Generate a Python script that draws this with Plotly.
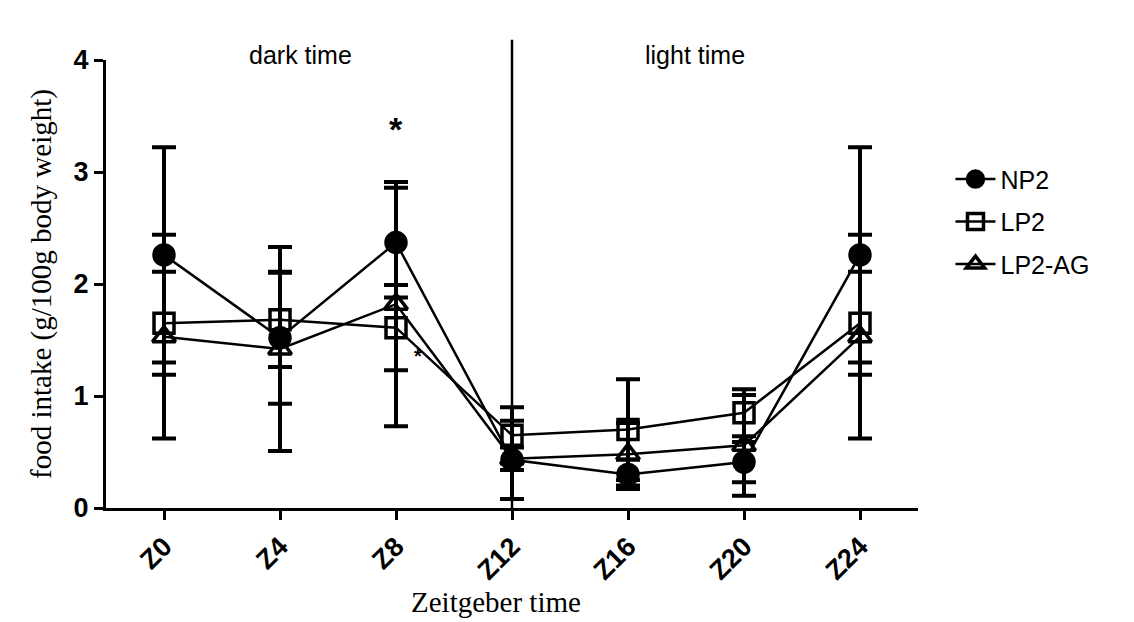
import plotly.graph_objects as go

# Zeitgeber hours and their tick labels
hours = [0, 4, 8, 12, 16, 20, 24]
tick_labels = ["Z0", "Z4", "Z8", "Z12", "Z16", "Z20", "Z24"]

# Food intake (g/100g body weight), mean and error per time point
np2_mean = [2.26, 1.52, 2.37, 0.43, 0.30, 0.41, 2.26]
np2_err = [0.96, 0.59, 0.49, 0.35, 0.13, 0.18, 0.96]

lp2_mean = [1.65, 1.68, 1.61, 0.65, 0.70, 0.85, 1.65]
lp2_err = [0.46, 0.42, 0.38, 0.25, 0.45, 0.21, 0.46]

lp2ag_mean = [1.53, 1.42, 1.82, 0.44, 0.48, 0.56, 1.53]
lp2ag_err = [0.91, 0.91, 1.09, 0.10, 0.28, 0.45, 0.91]

series = [
    ("NP2", np2_mean, np2_err, "circle", 20),
    ("LP2", lp2_mean, lp2_err, "square-open", 20),
    ("LP2-AG", lp2ag_mean, lp2ag_err, "triangle-up-open", 20),
]

fig = go.Figure()
for i, (name, mean, err, symbol, size) in enumerate(series):
    fig.add_trace(go.Scatter(
        x=hours, y=mean, name=name, mode="lines+markers",
        legendgroup=f"g{i}",
        line=dict(color="black", width=2.5),
        marker=dict(symbol=symbol, size=size, color="black",
                    line=dict(color="black", width=3.5)),
        error_y=dict(type="data", array=err, symmetric=True,
                     color="black", thickness=4, width=12),
        cliponaxis=False,
    ))

# Boundary between dark and light phases
fig.add_shape(type="line", xref="x", yref="paper", x0=12, x1=12,
              y0=0, y1=1.045, line=dict(color="black", width=2.5))

label_font = dict(family="Liberation Sans", size=25, color="black")
fig.add_annotation(x=4.7, y=1.011, xref="x", yref="paper", text="dark time",
                   showarrow=False, font=label_font, yanchor="middle")
fig.add_annotation(x=18.3, y=1.011, xref="x", yref="paper", text="light time",
                   showarrow=False, font=label_font, yanchor="middle")
fig.add_annotation(x=8, y=3.38, xref="x", yref="y", text="*", showarrow=False,
                   yanchor="middle",
                   font=dict(family="Liberation Sans", size=34, color="black",
                             weight="bold"))
fig.add_annotation(x=8.76, y=1.36, xref="x", yref="y", text="*", showarrow=False,
                   yanchor="middle",
                   font=dict(family="Liberation Sans", size=20, color="black",
                             weight="bold"))

tick_font = dict(family="Liberation Sans", size=27, color="black", weight="bold")
title_font = dict(family="Liberation Serif", size=29, color="black")

# Axis title for x drawn as an annotation so it can sit under the data span
fig.add_annotation(x=0.48, y=-0.21, xref="paper", yref="paper",
                   text="Zeitgeber time", showarrow=False, yanchor="middle",
                   font=title_font)

fig.update_xaxes(
    range=[-2, 26], tickvals=hours, ticktext=tick_labels, tickangle=-45,
    showline=True, linecolor="black", linewidth=3, mirror=False,
    ticks="outside", ticklen=9, tickwidth=3, tickcolor="black",
    showgrid=False, zeroline=False, tickfont=tick_font,
)
fig.update_yaxes(
    range=[0, 4], tickvals=[0, 1, 2, 3, 4],
    showline=True, linecolor="black", linewidth=3,
    ticks="outside", ticklen=9, tickwidth=3, tickcolor="black",
    showgrid=False, zeroline=False, tickfont=tick_font,
    title=dict(text="food intake (g/100g body weight)", font=title_font,
               standoff=14),
)

fig.update_layout(
    width=1134, height=622,
    margin=dict(l=106, r=216, t=60, b=114),
    plot_bgcolor="white", paper_bgcolor="white",
    showlegend=True,
    legend=dict(x=1.04, y=0.785, xanchor="left", yanchor="top",
                font=dict(family="Liberation Sans", size=25, color="black"),
                tracegroupgap=7, itemwidth=40, bgcolor="rgba(0,0,0,0)"),
)

fig.write_html("out.html")
